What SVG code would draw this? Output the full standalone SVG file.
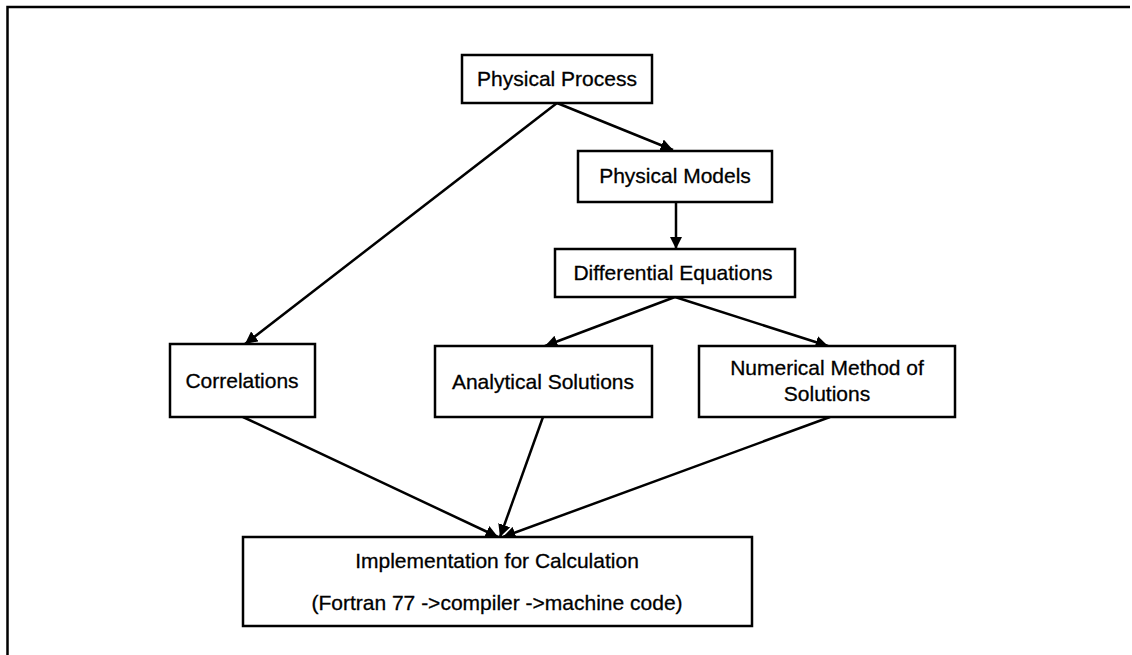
<svg xmlns="http://www.w3.org/2000/svg" width="1132" height="655" viewBox="0 0 1132 655">
<defs>
<style>
.box{fill:#fff;stroke:#000;stroke-width:2.5}
.t{font-family:"Liberation Sans",Arial,sans-serif;font-size:21px;fill:#000;stroke:#000;stroke-width:0.3;text-anchor:middle}
.c{stroke:#000;stroke-width:2.5;fill:none;marker-end:url(#ah)}
</style>
<marker id="ah" viewBox="0 0 10 10" refX="10" refY="5" markerWidth="5" markerHeight="5" markerUnits="strokeWidth" orient="auto">
<path d="M0,0 L10,5 L0,10 z" fill="#000"/>
</marker>
</defs>
<rect width="1132" height="655" fill="#fff"/>
<polyline points="1130,7 7.5,7 7.5,655" fill="none" stroke="#000" stroke-width="2.5"/>
<g id="connectors">
<line class="c" x1="557" y1="103" x2="673" y2="150"/>
<line class="c" x1="557" y1="103" x2="245" y2="344"/>
<line class="c" x1="676" y1="202" x2="676" y2="249"/>
<line class="c" x1="675" y1="297" x2="545" y2="346"/>
<line class="c" x1="675" y1="297" x2="828" y2="346"/>
<line class="c" x1="243" y1="417" x2="498" y2="537"/>
<line class="c" x1="543" y1="417" x2="500" y2="537"/>
<line class="c" x1="830" y1="417" x2="503" y2="537"/>
</g>
<g id="physical-process">
<rect class="box" x="462" y="55" width="190" height="48"/>
<text class="t" x="557" y="86">Physical Process</text>
</g>
<g id="physical-models">
<rect class="box" x="578" y="151" width="194" height="51"/>
<text class="t" x="675" y="183">Physical Models</text>
</g>
<g id="differential-equations">
<rect class="box" x="555" y="249" width="240" height="48"/>
<text class="t" x="673" y="280">Differential Equations</text>
</g>
<g id="correlations">
<rect class="box" x="170" y="344" width="145" height="73"/>
<text class="t" x="242" y="388">Correlations</text>
</g>
<g id="analytical-solutions">
<rect class="box" x="435" y="346" width="217" height="71"/>
<text class="t" x="543" y="389">Analytical Solutions</text>
</g>
<g id="numerical-method">
<rect class="box" x="699" y="346" width="256" height="71"/>
<text class="t" x="827" y="375">Numerical Method of</text>
<text class="t" x="827" y="401">Solutions</text>
</g>
<g id="implementation">
<rect class="box" x="243" y="537" width="509" height="89"/>
<text class="t" x="497" y="568">Implementation for Calculation</text>
<text class="t" x="497" y="610">(Fortran 77 -&gt;compiler -&gt;machine code)</text>
</g>
</svg>
